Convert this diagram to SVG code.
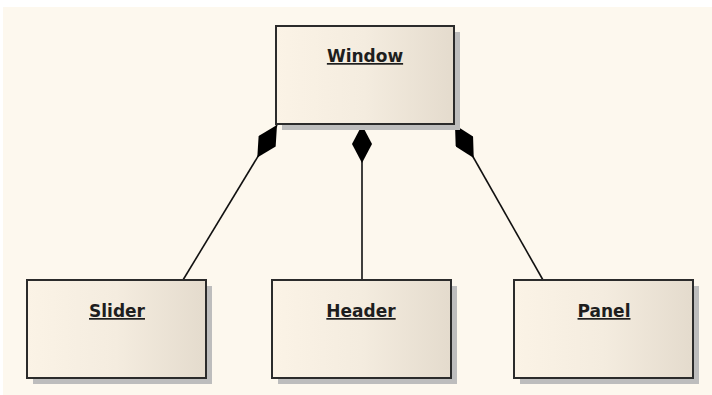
<svg xmlns="http://www.w3.org/2000/svg" width="712" height="395" viewBox="0 0 712 395">
  <defs>
    <linearGradient id="boxFill" x1="0" y1="0" x2="1" y2="0">
      <stop offset="0" stop-color="#FBF3E6"/>
      <stop offset="0.5" stop-color="#F4ECDF"/>
      <stop offset="1" stop-color="#E4DBCD"/>
    </linearGradient>
    <marker id="diamond" viewBox="0 0 38 20" markerWidth="38" markerHeight="20" refX="0" refY="10" orient="auto" markerUnits="userSpaceOnUse">
      <path d="M0,10 L19,0 L38,10 L19,20 Z" fill="#000"/>
    </marker>
    <style>
      .shadow { fill: #BDBDBD; }
      .box { fill: url(#boxFill); stroke: #2B2B2B; stroke-width: 2; }
      .label { font-family: "DejaVu Sans", Verdana, sans-serif; font-weight: bold; font-size: 17px; fill: #1E1E1E; text-anchor: middle; text-decoration: underline; }
      .conn { stroke: #111; stroke-width: 1.6; fill: none; marker-start: url(#diamond); }
    </style>
  </defs>
  <rect x="3" y="7" width="709" height="388" fill="#FDF8EE"/>
  <g id="connectors">
    <line class="conn" x1="277" y1="125" x2="183" y2="280"/>
    <line class="conn" x1="362" y1="125" x2="362" y2="280"/>
    <line class="conn" x1="455" y1="125" x2="543" y2="280"/>
  </g>
  <g id="window">
    <rect class="shadow" x="282" y="32" width="178" height="98"/>
    <rect class="box" x="276" y="26" width="178" height="98"/>
    <text class="label" x="365" y="62">Window</text>
  </g>
  <g id="slider">
    <rect class="shadow" x="33" y="286" width="179" height="98"/>
    <rect class="box" x="27" y="280" width="179" height="98"/>
    <text class="label" x="117" y="317">Slider</text>
  </g>
  <g id="header">
    <rect class="shadow" x="278" y="286" width="179" height="98"/>
    <rect class="box" x="272" y="280" width="179" height="98"/>
    <text class="label" x="361" y="317">Header</text>
  </g>
  <g id="panel">
    <rect class="shadow" x="520" y="286" width="179" height="98"/>
    <rect class="box" x="514" y="280" width="179" height="98"/>
    <text class="label" x="604" y="317">Panel</text>
  </g>
</svg>
